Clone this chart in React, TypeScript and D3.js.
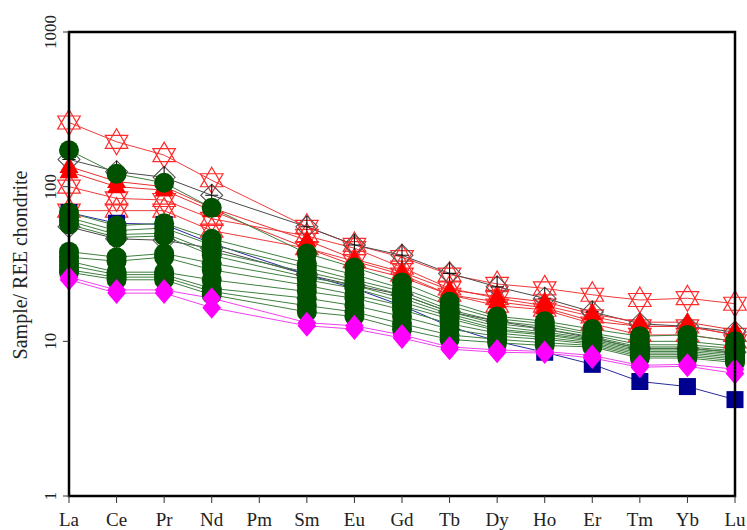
import React from "react";
import * as d3 from "d3";

const elements = ["La","Ce","Pr","Nd","Pm","Sm","Eu","Gd","Tb","Dy","Ho","Er","Tm","Yb","Lu"];
const yTicks = [1, 10, 100, 1000];
const yTitle = "Sample/ REE chondrite";

// Red open hexagram samples
const star1 = [260,195,160,110,null,55,42,35,27,23.5,22,20,18.5,19,17.5];
const star2 = [100,84,82,62,null,48,40,30,22,19,17,14.5,12.5,12.5,11];
const star3 = [70,70,70,52,null,40,33,27,20,17,16,13,11,11,10];
// Red filled triangles
const tri1 = [135,108,100,73,null,45,34,28,21.5,19.5,18,15,13.3,13.3,11.8];
const tri2 = [125,100,95,70,null,40,31,26,20,18,16.5,13.5,12.5,12.5,11];
// Black open diamonds with cross
const dia1 = [150,125,115,88,null,55,42,36,27.5,22.5,19,15.5,13,12.5,11.5];
const dia2 = [55,46,45,40,null,27,23,20,15.5,13.5,12,10.5,9,9,8.5];
// Blue squares
const blue1 = [68,58,57,43,null,27,22,17,12.5,10,8.5,7.1,5.5,5.1,4.2];
// Dark green circles
const g1 = [172,121,106,73,null,37,30,24,18,14.5,13.5,12,10.8,11,10];
const g2 = [68,56,58,46,null,32,27,22,17,14,13,11.3,10,10,9.3];
const g3 = [63,52,54,42,null,30,25,21,16,13.5,12.5,11,9.5,9.5,9];
const g4 = [60,49,50,38,null,28,24,20,15.5,13,12,10.7,9.2,9.2,8.7];
const g5 = [57,47,48,36,null,26,23,19,15,12.5,11.5,10.4,9,9,8.5];
const g6 = [38,35,37,32,null,25,22,18,14.5,12,11.2,10.2,8.8,8.8,8.3];
const g7 = [35,33,35,29,null,23,20,17,14,11.7,11,10,8.6,8.6,8.1];
const g8 = [33,28,28,25,null,21,19,16,13,11.3,10.6,9.8,8.4,8.4,7.9];
const g9 = [31,27,27,22,null,19,17,14.5,12,10.8,10.3,9.6,8.2,8.2,7.7];
const g10 = [29,26,26,21,null,17,15.5,13,11,10.3,9.8,9.4,8,8,7.5];
const g11 = [28,25,25,20,null,15.5,14.5,12,10.3,9.8,9.4,9.2,7.8,7.8,7.3];
// Magenta diamonds
const m1 = [26,21.5,21.5,19,null,13.2,12.6,11,9.2,8.8,8.6,8.1,7,7.1,6.6];
const m2 = [25,20.5,20.5,16.5,null,12.6,12,10.5,8.9,8.5,8.4,7.8,6.8,6.9,6.2];

type Kind = "star" | "tri" | "dia" | "sq" | "circ" | "mag";
const groups: { kind: Kind; line: string; series: (number | null)[][] }[] = [
  { kind: "star", line: "#ee3b3b", series: [star1, star2, star3] },
  { kind: "dia", line: "#4a4a4a", series: [dia1, dia2] },
  { kind: "tri", line: "#e83030", series: [tri1, tri2] },
  { kind: "sq", line: "#2a2aa0", series: [blue1] },
  { kind: "circ", line: "#3f7f3f", series: [g1, g2, g3, g4, g5, g6, g7, g8, g9, g10, g11] },
  { kind: "mag", line: "#f040f0", series: [m1, m2] },
];

const L = 69, R = 735, T = 32, B = 496;
const FONT = "'Times New Roman', Times, 'Liberation Serif', Tinos, 'DejaVu Serif', serif";

function Marker({ kind, x, y }: { kind: Kind; x: number; y: number }) {
  if (kind === "star") {
    const r = 13;
    const a = r * 0.866;
    const up = `M${x},${y - r}L${x + a},${y + r / 2}L${x - a},${y + r / 2}Z`;
    const dn = `M${x},${y + r}L${x + a},${y - r / 2}L${x - a},${y - r / 2}Z`;
    return <path d={up + dn} fill="none" stroke="#ff2a2a" strokeWidth={1.2} />;
  }
  if (kind === "tri") {
    const r = 10;
    return <path d={`M${x},${y - r}L${x + r * 0.95},${y + r * 0.65}L${x - r * 0.95},${y + r * 0.65}Z`} fill="#ff0000" />;
  }
  if (kind === "dia") {
    const r = 11;
    return (
      <g stroke="#555" strokeWidth={1.1} fill="none">
        <path d={`M${x},${y - r}L${x + r},${y}L${x},${y + r}L${x - r},${y}Z`} />
        <path d={`M${x},${y - r}L${x},${y + r}M${x - r * 0.6},${y}L${x + r * 0.6},${y}`} stroke="#111" />
      </g>
    );
  }
  if (kind === "sq") {
    const s = 8.5;
    return <rect x={x - s} y={y - s} width={2 * s} height={2 * s} fill="#000090" />;
  }
  if (kind === "circ") {
    return <circle cx={x} cy={y} r={10} fill="#005200" />;
  }
  const r = 11;
  return <path d={`M${x},${y - r}L${x + r * 0.85},${y}L${x},${y + r}L${x - r * 0.85},${y}Z`} fill="#ff00ff" />;
}

export default function App() {
  const x = d3.scalePoint<string>().domain(elements).range([L, R]);
  const y = d3.scaleLog().domain([1, 1000]).range([B, T]);
  const line = d3.line<[number, number]>().x((d) => d[0]).y((d) => d[1]);

  const pts = (s: (number | null)[]) =>
    s
      .map((v, i) => (v == null ? null : ([x(elements[i]) as number, y(v)] as [number, number])))
      .filter((p): p is [number, number] => p != null);

  return (
    <div style={{ position: "absolute", left: 0, top: 0 }}>
      <svg width={747} height={530} style={{ display: "block", background: "#fff" }} fontFamily={FONT}>
        {/* lines */}
        {groups.map((g, gi) =>
          g.series.map((s, si) => (
            <path key={`l${gi}-${si}`} d={line(pts(s)) || ""} fill="none" stroke={g.line} strokeWidth={1} />
          ))
        )}
        {/* markers */}
        {groups.map((g, gi) =>
          g.series.map((s, si) =>
            pts(s).map((p, pi) => <Marker key={`m${gi}-${si}-${pi}`} kind={g.kind} x={p[0]} y={p[1]} />)
          )
        )}
        {/* frame */}
        <rect x={L} y={T} width={R - L} height={B - T} fill="none" stroke="#000" strokeWidth={2.5} />
        {/* y ticks */}
        {yTicks.map((t) => (
          <g key={`yt${t}`}>
            <line x1={L - 6} x2={L} y1={y(t)} y2={y(t)} stroke="#333" strokeWidth={1} />
            <text
              transform={`translate(56,${y(t)}) rotate(-90)`}
              textAnchor="middle"
              fontFamily={FONT}
              fontSize={17}
              fill="#222"
            >
              {t}
            </text>
          </g>
        ))}
        {/* x ticks */}
        {elements.map((e) => (
          <g key={`xt${e}`}>
            <line x1={x(e)} x2={x(e)} y1={B} y2={B + 7} stroke="#333" strokeWidth={1} />
            <text x={x(e)} y={526} textAnchor="middle" fontFamily={FONT} fontSize={19} fill="#222">
              {e}
            </text>
          </g>
        ))}
        <text
          transform={`translate(27,265) rotate(-90)`}
          textAnchor="middle"
          fontFamily={FONT}
          fontSize={20}
          fill="#222"
        >
          {yTitle}
        </text>
      </svg>
    </div>
  );
}
